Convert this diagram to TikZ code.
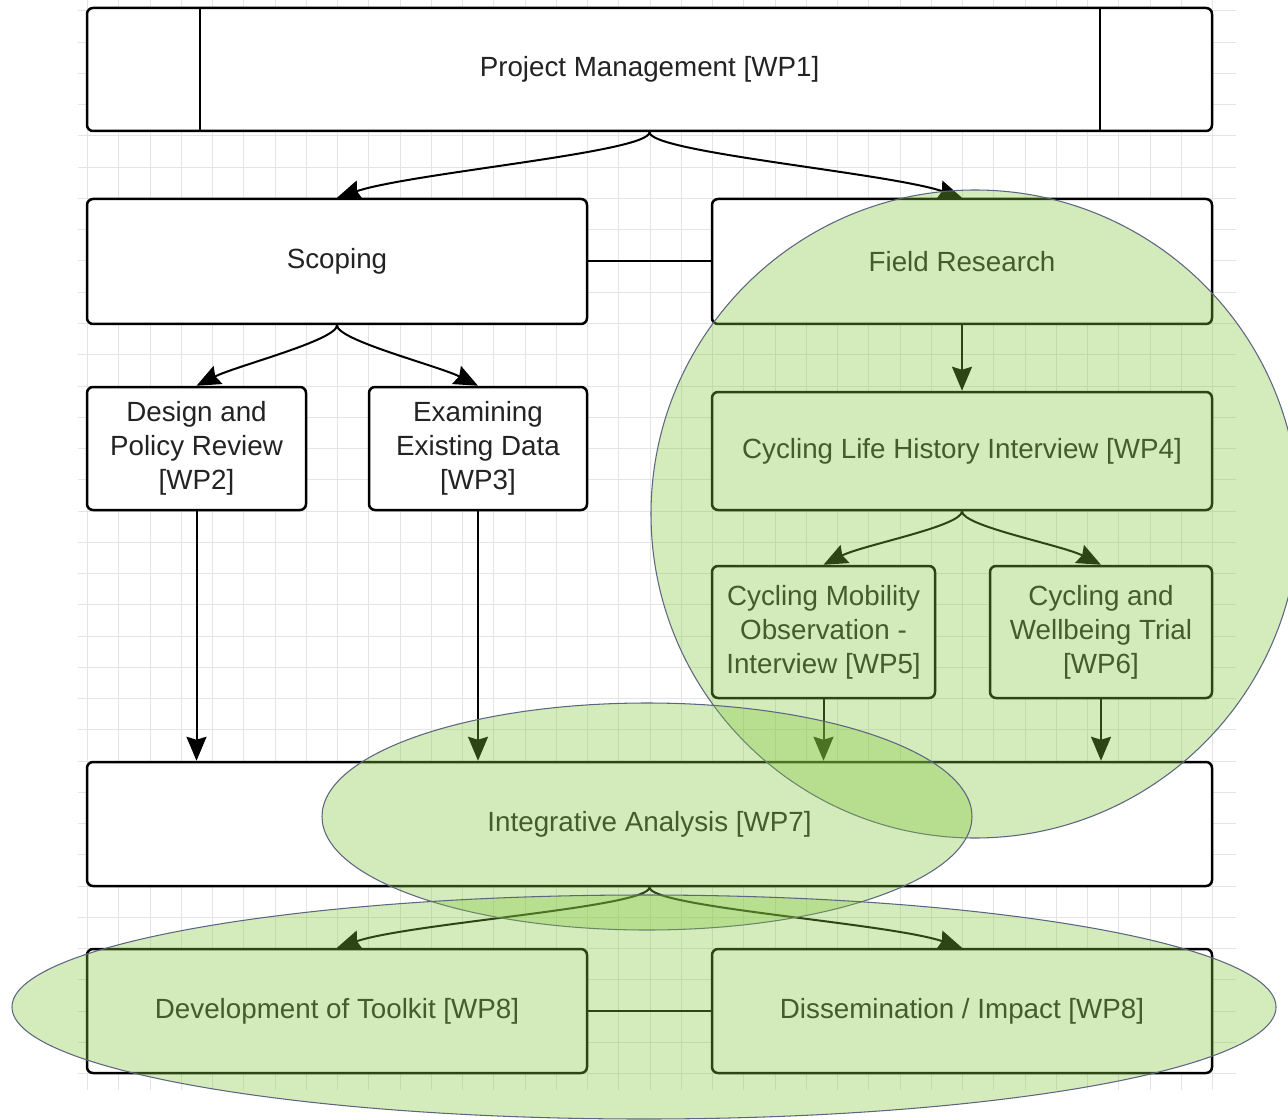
\documentclass[tikz,border=0pt]{standalone}
\usepackage{fontspec}
\setmainfont{Liberation Sans}
\usetikzlibrary{arrows.meta}
\definecolor{gridgray}{RGB}{228,228,228}
\definecolor{leafgreen}{RGB}{131,197,63}
\definecolor{rimblue}{RGB}{92,102,128}
\definecolor{inkgray}{RGB}{35,35,35}

\begin{document}
\begin{tikzpicture}[>={Stealth[length=0.48cm,width=0.4cm,inset=0.06cm]},
  wpbox/.style={draw=black,line width=0.05cm,rounded corners=0.12cm,fill=white,
    text=inkgray,align=center,font=\fontsize{15.8}{19.3}\selectfont},
  link/.style={line width=0.04cm},
  blob/.style={fill=leafgreen,fill opacity=0.35,draw=rimblue,line width=0.6pt}]
  \clip (0,0) rectangle (25.76,-22.38);

  % background grid
  \foreach \i in {0,...,36}
    \draw[gridgray,line width=0.02cm] (1.75+0.625*\i,0) -- (1.75+0.625*\i,-21.8);
  \foreach \j in {0,...,34}
    \draw[gridgray,line width=0.02cm] (1.56,-0.22-0.625*\j) -- (24.72,-0.22-0.625*\j);

  % work packages
  \node[wpbox,minimum width=22.5cm,minimum height=2.46cm] (pm) at (12.99,-1.39) {Project Management [WP1]};
  \draw[line width=0.05cm] (4.0,0 |- pm.north) -- (4.0,0 |- pm.south);
  \draw[line width=0.05cm] (22.0,0 |- pm.north) -- (22.0,0 |- pm.south);

  \node[wpbox,minimum width=10cm,minimum height=2.5cm] (sc) at (6.74,-5.23) {Scoping};
  \node[wpbox,minimum width=10cm,minimum height=2.5cm] (fr) at (19.24,-5.23) {Field Research};

  \node[wpbox,minimum width=4.38cm,minimum height=2.46cm] (dp) at (3.93,-8.97) {Design and\\Policy Review\\{}[WP2]};
  \node[wpbox,minimum width=4.36cm,minimum height=2.46cm] (ex) at (9.56,-8.97) {Examining\\Existing Data\\{}[WP3]};
  \node[wpbox,minimum width=10cm,minimum height=2.36cm] (lh) at (19.24,-9.02) {Cycling Life History Interview [WP4]};

  \node[wpbox,minimum width=4.46cm,minimum height=2.64cm] (mo) at (16.47,-12.64) {Cycling Mobility\\Observation -\\Interview [WP5]};
  \node[wpbox,minimum width=4.44cm,minimum height=2.64cm] (wb) at (22.02,-12.64) {Cycling and\\Wellbeing Trial\\{}[WP6]};

  \node[wpbox,minimum width=22.5cm,minimum height=2.48cm] (ia) at (12.99,-16.48) {Integrative Analysis [WP7]};

  \node[wpbox,minimum width=10cm,minimum height=2.48cm] (tk) at (6.74,-20.22) {Development of Toolkit [WP8]};
  \node[wpbox,minimum width=10cm,minimum height=2.48cm] (di) at (19.24,-20.22) {Dissemination / Impact [WP8]};

  % connectors
  \draw[link,->] (pm.south) .. controls +(0,-0.4) and +(1.5,0.5) .. (sc.north);
  \draw[link,->] (pm.south) .. controls +(0,-0.4) and +(-1.5,0.5) .. (fr.north);
  \draw[link] (sc.east) -- (fr.west);

  \draw[link,->] (sc.south) .. controls +(0,-0.3) and +(0.8,0.4) .. (dp.north);
  \draw[link,->] (sc.south) .. controls +(0,-0.3) and +(-0.8,0.4) .. (ex.north);
  \draw[link,->] (fr.south) -- (lh.north);
  \draw[link,->] (lh.south) .. controls +(0,-0.3) and +(0.8,0.4) .. (mo.north);
  \draw[link,->] (lh.south) .. controls +(0,-0.3) and +(-0.8,0.4) .. (wb.north);

  \draw[link,->] (dp.south) -- (dp.south |- ia.north);
  \draw[link,->] (ex.south) -- (ex.south |- ia.north);
  \draw[link,->] (mo.south) -- (mo.south |- ia.north);
  \draw[link,->] (wb.south) -- (wb.south |- ia.north);

  \draw[link,->] (ia.south) .. controls +(0,-0.4) and +(1.5,0.5) .. (tk.north);
  \draw[link,->] (ia.south) .. controls +(0,-0.4) and +(-1.5,0.5) .. (di.north);
  \draw[link] (tk.east) -- (di.west);

  % highlighted areas
  \draw[blob] (19.5,-10.28) circle (6.48cm);
  \draw[blob] (12.94,-16.33) ellipse (6.5cm and 2.27cm);
  \draw[blob] (12.88,-20.14) ellipse (12.64cm and 2.24cm);
\end{tikzpicture}
\end{document}
